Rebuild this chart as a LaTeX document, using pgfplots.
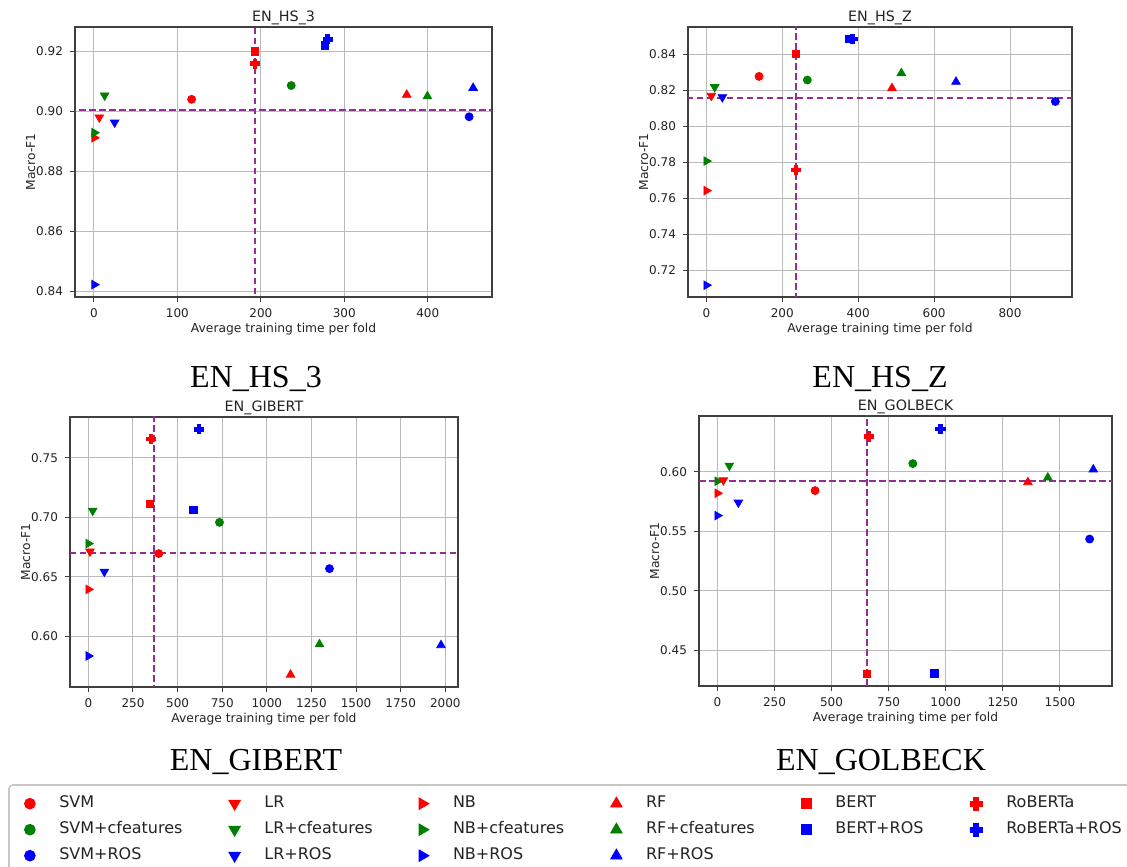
\documentclass[border=0pt]{standalone}
\usepackage{fontspec}
\setmainfont{DejaVu Sans}
\newfontfamily\capfont{Liberation Serif}
\usepackage{pgfplots}
\pgfplotsset{compat=1.18}

% filled plus, like matplotlib's "P"
\pgfdeclareplotmark{fatplus}{%
  \pgfpathmoveto{\pgfqpoint{-0.38\pgfplotmarksize}{\pgfplotmarksize}}%
  \pgfpathlineto{\pgfqpoint{0.38\pgfplotmarksize}{\pgfplotmarksize}}%
  \pgfpathlineto{\pgfqpoint{0.38\pgfplotmarksize}{0.38\pgfplotmarksize}}%
  \pgfpathlineto{\pgfqpoint{\pgfplotmarksize}{0.38\pgfplotmarksize}}%
  \pgfpathlineto{\pgfqpoint{\pgfplotmarksize}{-0.38\pgfplotmarksize}}%
  \pgfpathlineto{\pgfqpoint{0.38\pgfplotmarksize}{-0.38\pgfplotmarksize}}%
  \pgfpathlineto{\pgfqpoint{0.38\pgfplotmarksize}{-\pgfplotmarksize}}%
  \pgfpathlineto{\pgfqpoint{-0.38\pgfplotmarksize}{-\pgfplotmarksize}}%
  \pgfpathlineto{\pgfqpoint{-0.38\pgfplotmarksize}{-0.38\pgfplotmarksize}}%
  \pgfpathlineto{\pgfqpoint{-\pgfplotmarksize}{-0.38\pgfplotmarksize}}%
  \pgfpathlineto{\pgfqpoint{-\pgfplotmarksize}{0.38\pgfplotmarksize}}%
  \pgfpathlineto{\pgfqpoint{-0.38\pgfplotmarksize}{0.38\pgfplotmarksize}}%
  \pgfpathclose
  \pgfusepathqfillstroke
}

\definecolor{mred}{RGB}{255,0,0}
\definecolor{mgreen}{RGB}{0,128,0}
\definecolor{mblue}{RGB}{0,0,255}
\definecolor{mpurple}{RGB}{150,45,150}
\definecolor{txt}{RGB}{35,35,35}

\pgfplotsset{
  panel/.style={
    scale only axis, height=135pt, anchor=south west,
    tick pos=left, tick align=outside, major tick length=2.5pt,
    major tick style={draw=black!75, line width=0.5pt},
    axis line style={draw=black!75, line width=0.6pt},
    grid=major, major grid style={draw=black!27, line width=0.5pt},
    ticklabel style={font=\fontsize{6}{7}\selectfont, text=txt},
    /pgf/number format/assume math mode=true,
    xticklabel style={/pgf/number format/1000 sep={}},
    yticklabel style={/pgf/number format/.cd, fixed, fixed zerofill, precision=2},
    xlabel={Average training time per fold}, ylabel={Macro-F1},
    label style={font=\fontsize{6.15}{7.5}\selectfont, text=txt},
    xlabel style={at={([yshift=-18pt]axis description cs:0.5,0)}, anchor=base},
    ylabel style={at={([xshift=-20pt]axis description cs:0,0.5)}, anchor=base},
    every axis title shift=0pt,
    title style={font=\fontsize{7.15}{8.5}\selectfont, text=txt,
      at={([yshift=2.5pt]axis description cs:0.5,1)}, anchor=base},
    legend image code/.code={\draw[#1] plot coordinates {(0pt,0pt)};},
    legend image post style={/tikz/every mark/.append style={scale=1.35}},
  },
  dot/.style={only marks, color=#1, mark=*, mark size=2pt},
  vdown/.style={only marks, color=#1, mark=triangle*, mark size=2.45pt, mark options={rotate=180}},
  vright/.style={only marks, color=#1, mark=triangle*, mark size=2.45pt, mark options={rotate=-90}},
  vup/.style={only marks, color=#1, mark=triangle*, mark size=2.45pt},
  sq/.style={only marks, color=#1, mark=square*, mark size=1.9pt},
  pl/.style={only marks, color=#1, mark=fatplus, mark size=2.3pt},
  meanline/.style={forget plot, color=mpurple, line width=1pt, dash pattern=on 3.3pt off 1.7pt},
}

\begin{document}
\begin{tikzpicture}
\path[use as bounding box] (0pt,0pt) rectangle (563.5pt,433pt);

% ---- EN_HS_3
\begin{axis}[panel, at={(37.5pt,284.5pt)}, width=208.5pt, title={EN\_HS\_3},
  xmin=-22.7, xmax=477, ymin=0.8382, ymax=0.9281,
  xtick={0,100,200,300,400}, ytick={0.84,0.86,0.88,0.90,0.92}]
\addplot[dot=mred] coordinates {(117,0.904)};
\addplot[dot=mgreen] coordinates {(236.4,0.9086)};
\addplot[dot=mblue] coordinates {(449.6,0.8982)};
\addplot[vdown=mred] coordinates {(6.4,0.898)};
\addplot[vdown=mgreen] coordinates {(12.8,0.9053)};
\addplot[vdown=mblue] coordinates {(24.8,0.8963)};
\addplot[vright=mred] coordinates {(0.4,0.8912)};
\addplot[vright=mgreen] coordinates {(0.4,0.8929)};
\addplot[vright=mblue] coordinates {(0.4,0.8423)};
\addplot[vup=mred] coordinates {(374.8,0.9055)};
\addplot[vup=mgreen] coordinates {(399.6,0.905)};
\addplot[vup=mblue] coordinates {(454.4,0.9078)};
\addplot[sq=mred] coordinates {(192.8,0.920)};
\addplot[sq=mblue] coordinates {(276.8,0.922)};
\addplot[pl=mred] coordinates {(192.8,0.9159)};
\addplot[pl=mblue] coordinates {(280,0.924)};
\addplot[meanline] coordinates {(192.8,0) (192.8,1)};
\addplot[meanline] coordinates {(-1000,0.9006) (5000,0.9006)};
\end{axis}

% ---- EN_HS_Z
\begin{axis}[panel, at={(344pt,284.5pt)}, width=192pt, title={EN\_HS\_Z},
  xmin=-48.3, xmax=963.3, ymin=0.7054, ymax=0.855,
  xtick={0,200,400,600,800}, ytick={0.72,0.74,0.76,0.78,0.80,0.82,0.84}]
\addplot[dot=mred] coordinates {(138.8,0.8276)};
\addplot[dot=mgreen] coordinates {(266,0.8256)};
\addplot[dot=mblue] coordinates {(919.4,0.8137)};
\addplot[vdown=mred] coordinates {(13.2,0.8169)};
\addplot[vdown=mgreen] coordinates {(22,0.8217)};
\addplot[vdown=mblue] coordinates {(42.2,0.8161)};
\addplot[vright=mred] coordinates {(0,0.7643)};
\addplot[vright=mgreen] coordinates {(0,0.7807)};
\addplot[vright=mblue] coordinates {(0,0.7119)};
\addplot[vup=mred] coordinates {(489,0.8211)};
\addplot[vup=mgreen] coordinates {(513.7,0.8294)};
\addplot[vup=mblue] coordinates {(657.7,0.8246)};
\addplot[sq=mred] coordinates {(236.2,0.840)};
\addplot[sq=mblue] coordinates {(375.8,0.8483)};
\addplot[pl=mred] coordinates {(236.2,0.7759)};
\addplot[pl=mblue] coordinates {(384.6,0.8483)};
\addplot[meanline] coordinates {(236.2,0) (236.2,1)};
\addplot[meanline] coordinates {(-1000,0.8156) (5000,0.8156)};
\end{axis}

% ---- EN_GIBERT (carries the shared legend)
\begin{axis}[panel, at={(35pt,89.5pt)}, width=194pt, title={EN\_GIBERT},
  xmin=-102.8, xmax=2071, ymin=0.5577, ymax=0.7842,
  xtick={0,250,500,750,1000,1250,1500,1750,2000}, ytick={0.60,0.65,0.70,0.75},
  legend columns=3, transpose legend,
  legend style={at={(-0.1173,-0.4037)}, anchor=north west, draw=none, fill=none,
    inner sep=0pt, outer sep=0pt, font=\fontsize{8}{9.6}\selectfont, text=txt,
    cells={anchor=west}, nodes={inner sep=0pt, text height=6pt, text depth=1.7pt},
    row sep=5.3pt,
    /tikz/every odd column/.append style={column sep=12pt},
    /tikz/every even column/.append style={column sep=23.2pt}}]
\addplot[dot=mred] coordinates {(394.4,0.6696)}; \addlegendentry{SVM}
\addplot[dot=mgreen] coordinates {(734.6,0.6958)}; \addlegendentry{SVM+cfeatures}
\addplot[dot=mblue] coordinates {(1351,0.657)}; \addlegendentry{SVM+ROS}
\addplot[vdown=mred] coordinates {(9.3,0.6714)}; \addlegendentry{LR}
\addplot[vdown=mgreen] coordinates {(24.3,0.7056)}; \addlegendentry{LR+cfeatures}
\addplot[vdown=mblue] coordinates {(89.7,0.6545)}; \addlegendentry{LR+ROS}
\addplot[vright=mred] coordinates {(0,0.6396)}; \addlegendentry{NB}
\addplot[vright=mgreen] coordinates {(0,0.678)}; \addlegendentry{NB+cfeatures}
\addplot[vright=mblue] coordinates {(0,0.5837)}; \addlegendentry{NB+ROS}
\addplot[vup=mred] coordinates {(1132.7,0.568)}; \addlegendentry{RF}
\addplot[vup=mgreen] coordinates {(1295,0.5935)}; \addlegendentry{RF+cfeatures}
\addplot[vup=mblue] coordinates {(1975.7,0.5927)}; \addlegendentry{RF+ROS}
\addplot[sq=mred] coordinates {(345.8,0.7112)}; \addlegendentry{BERT}
\addplot[sq=mblue] coordinates {(586.9,0.7064)}; \addlegendentry{BERT+ROS}
\addlegendimage{empty legend}\addlegendentry{}
\addplot[pl=mred] coordinates {(351.4,0.7657)}; \addlegendentry{RoBERTa}
\addplot[pl=mblue] coordinates {(620.6,0.7739)}; \addlegendentry{RoBERTa+ROS}
\addlegendimage{empty legend}\addlegendentry{}
\addplot[meanline] coordinates {(370,0) (370,1)};
\addplot[meanline] coordinates {(-1000,0.6702) (5000,0.6702)};
\end{axis}

% ---- EN_GOLBECK
\begin{axis}[panel, at={(349.5pt,90pt)}, width=206.5pt, title={EN\_GOLBECK},
  xmin=-80.3, xmax=1728, ymin=0.4201, ymax=0.647,
  xtick={0,250,500,750,1000,1250,1500}, ytick={0.45,0.50,0.55,0.60}]
\addplot[dot=mred] coordinates {(427.9,0.5843)};
\addplot[dot=mgreen] coordinates {(855.9,0.607)};
\addplot[dot=mblue] coordinates {(1630,0.5436)};
\addplot[vright=mred] coordinates {(0,0.5821)};
\addplot[vright=mgreen] coordinates {(0,0.5922)};
\addplot[vright=mblue] coordinates {(0,0.5633)};
\addplot[vdown=mred] coordinates {(26.3,0.593)};
\addplot[vdown=mgreen] coordinates {(52.6,0.6053)};
\addplot[vdown=mblue] coordinates {(92,0.5743)};
\addplot[vup=mred] coordinates {(1359.7,0.5913)};
\addplot[vup=mgreen] coordinates {(1447,0.5952)};
\addplot[vup=mblue] coordinates {(1646,0.602)};
\addplot[sq=mred] coordinates {(654.3,0.4301)};
\addplot[sq=mblue] coordinates {(950.8,0.4309)};
\addplot[pl=mred] coordinates {(664.5,0.6299)};
\addplot[pl=mblue] coordinates {(977,0.6361)};
\addplot[meanline] coordinates {(654.3,0) (654.3,1)};
\addplot[meanline] coordinates {(-1000,0.5924) (5000,0.5924)};
\end{axis}

% sub-figure captions and the legend frame
\begin{scope}[font=\capfont\fontsize{16}{19}\selectfont]
\node[anchor=base] at (128pt,239pt) {EN\_HS\_3};
\node[anchor=base] at (440pt,239pt) {EN\_HS\_Z};
\node[anchor=base] at (128pt,47.7pt) {EN\_GIBERT};
\node[anchor=base] at (440.5pt,47.7pt) {EN\_GOLBECK};
\end{scope}
\draw[black!22, line width=0.8pt, rounded corners=2pt] (4.5pt,-6pt) rectangle (575pt,40.5pt);
\end{tikzpicture}
\end{document}
